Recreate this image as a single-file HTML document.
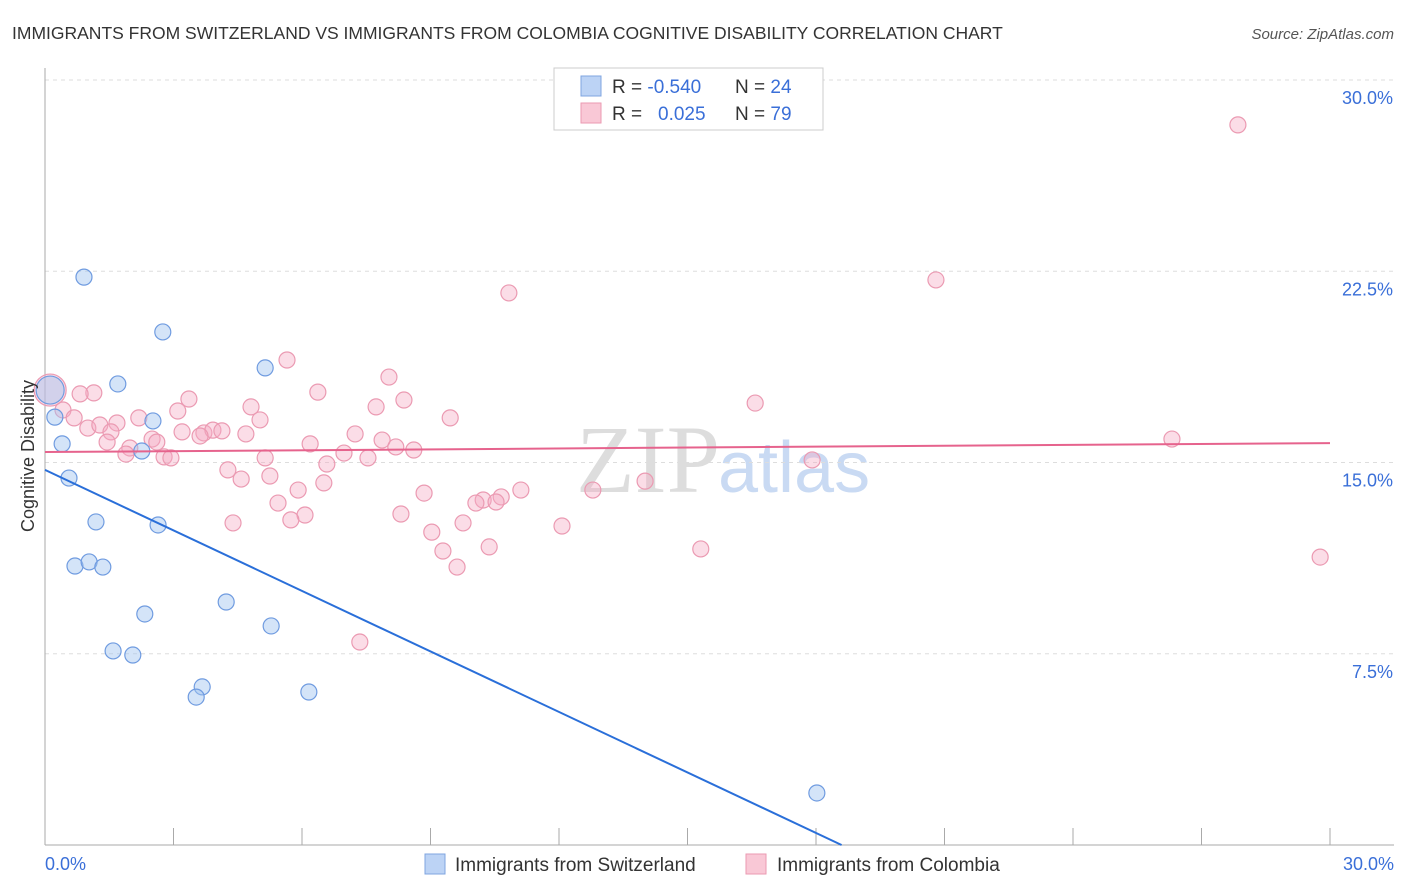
<!DOCTYPE html>
<html><head><meta charset="utf-8"><style>
body{margin:0;background:#fff;font-family:"Liberation Sans",sans-serif;}
svg{display:block}
</style></head><body>
<svg id="c" width="1406" height="892">
<text x="12" y="39" font-size="17.5" fill="#333">IMMIGRANTS FROM SWITZERLAND VS IMMIGRANTS FROM COLOMBIA COGNITIVE DISABILITY CORRELATION CHART</text>
<text x="1394" y="39" font-size="15" fill="#555" font-style="italic" text-anchor="end">Source: ZipAtlas.com</text>
<text x="720" y="492" font-size="96" fill="#ddd" font-family="Liberation Serif,serif" text-anchor="end">ZIP</text>
<text x="718" y="492" font-size="72" fill="#c9daf3">atlas</text>
<g id="grid"></g><g id="axes"></g><g id="pts"></g><g id="lines"></g>
<text transform="translate(34,456) rotate(-90)" font-size="18" fill="#333" text-anchor="middle">Cognitive Disability</text>
<text x="45" y="870" font-size="18" fill="#3a6fd8">0.0%</text>
<text x="1394" y="870" font-size="18" fill="#3a6fd8" text-anchor="end">30.0%</text>
<g>
<rect x="554" y="68" width="269" height="62" fill="#fff" stroke="#ccc"/>
<rect x="581" y="76" width="20" height="20" fill="#bcd3f5" stroke="#7fa4e0"/>
<rect x="581" y="103" width="20" height="20" fill="#f9c8d6" stroke="#eb9ab2"/>
<text x="612" y="93" font-size="19" fill="#333">R = <tspan fill="#3a6fd8">-0.540</tspan><tspan x="735">N = </tspan><tspan fill="#3a6fd8">24</tspan></text>
<text x="612" y="120" font-size="19" fill="#333">R = <tspan x="658" fill="#3a6fd8">0.025</tspan><tspan x="735">N = </tspan><tspan fill="#3a6fd8">79</tspan></text>
</g>
<g><rect x="425" y="854" width="20" height="20" fill="#bcd3f5" stroke="#7fa4e0"/><text x="455" y="871" font-size="19" fill="#333">Immigrants from Switzerland</text></g>
<g><rect x="746" y="854" width="20" height="20" fill="#f9c8d6" stroke="#eb9ab2"/><text x="777" y="871" font-size="19" fill="#333">Immigrants from Colombia</text></g>
</svg>
<script>
const yTicks=[7.5,15,22.5,30];
const yTickLabels=["7.5%","15.0%","22.5%","30.0%"];
const swissX=[0.91,2.75,1.70,5.14,0.23,2.52,0.40,2.26,0.56,1.19,2.64,0.70,1.03,1.35,2.33,4.23,5.28,1.59,2.05,3.67,3.53,6.16,18.02,0.12];
const swissY=[22.27,20.12,18.08,18.71,16.78,16.63,15.73,15.45,14.39,12.67,12.55,10.94,11.10,10.90,9.06,9.53,8.59,7.61,7.45,6.20,5.80,6.00,2.04,17.84];
const colX=[27.85,20.80,10.83,5.65,8.03,6.37,3.36,1.14,0.82,8.38,16.58,4.81,7.73,3.10,0.42,9.46,2.19,5.02,1.68,0.68,1.00,1.28,1.54,3.20,3.71,3.92,4.13,3.62,4.69,7.24,2.50,2.61,1.45,7.87,6.19,8.19,8.61,26.31,1.98,6.98,1.89,2.78,2.94,5.14,7.54,17.91,6.58,4.27,4.58,5.25,14.01,6.51,5.91,11.11,8.85,12.79,5.44,10.65,10.23,10.06,10.53,8.31,6.07,5.74,9.76,4.39,9.03,12.07,10.37,9.29,15.31,9.62,29.77,7.35,0.12];
const colY=[28.24,22.16,21.65,19.02,18.35,17.76,17.49,17.73,17.69,17.45,17.33,17.18,17.18,17.02,17.06,16.75,16.75,16.67,16.55,16.75,16.35,16.47,16.20,16.20,16.16,16.27,16.24,16.04,16.12,16.12,15.92,15.80,15.80,15.88,15.73,15.61,15.49,15.92,15.57,15.37,15.33,15.22,15.18,15.18,15.18,15.10,14.94,14.71,14.35,14.47,14.27,14.20,13.92,13.92,13.80,13.92,13.41,13.65,13.53,13.41,13.45,12.98,12.94,12.75,12.63,12.63,12.27,12.51,11.69,11.53,11.61,10.90,11.29,7.96,17.84];
const swissLine=[14.71,-0.791];
const colLine=[15.41,0.0117];
const ns="http://www.w3.org/2000/svg";
const X=v=>45+v/30*1285, Y=v=>845-v*25.5;
function mk(t,a,p){const e=document.createElementNS(ns,t);for(const k in a)e.setAttribute(k,a[k]);document.getElementById(p).appendChild(e);return e;}
yTicks.forEach((t,i)=>{
 const g=mk('line',{x1:45,x2:1394,y1:Y(t),y2:Y(t),stroke:'#ddd','stroke-dasharray':'4 4'},'grid');
 
 
 const l=mk('text',{x:1393,y:Y(t)+24,'font-size':18,fill:'#3a6fd8','text-anchor':'end'},'grid');
 l.textContent=yTickLabels[i];
 
 
});
const ax=mk('line',{x1:45,x2:45,y1:68,y2:845,stroke:'#aaa'},'axes');


const bx=mk('line',{x1:45,x2:1394,y1:845,y2:845,stroke:'#aaa'},'axes');


for(let i=1;i<=10;i++){const t=mk('line',{x1:X(i*3),x2:X(i*3),y1:828,y2:845,stroke:'#aaa'},'axes');
 
 }
colX.forEach((x,i)=>{const big=i===colX.length-1;
 const c=mk('circle',{cx:X(x),cy:Y(colY[i]),r:big?16:8,fill:'rgba(246,170,195,0.4)',stroke:'#eb9ab2','stroke-width':1.2},'pts');
 
 });
swissX.forEach((x,i)=>{const big=i===swissX.length-1;
 const c=mk('circle',{cx:X(x),cy:Y(swissY[i]),r:big?14:8,fill:'rgba(160,195,240,0.45)',stroke:'#6f9be0','stroke-width':1.2},'pts');
 
 });
const xEnd=-swissLine[0]/swissLine[1];
const l1=mk('line',{x1:X(0),y1:Y(swissLine[0]),x2:X(xEnd),y2:Y(0),stroke:'#2a6fd9','stroke-width':2},'lines');


const l2=mk('line',{x1:X(0),y1:Y(colLine[0]),x2:X(30),y2:Y(colLine[0]+colLine[1]*30),stroke:'#e6638d','stroke-width':2},'lines');


</script>
</body></html>
